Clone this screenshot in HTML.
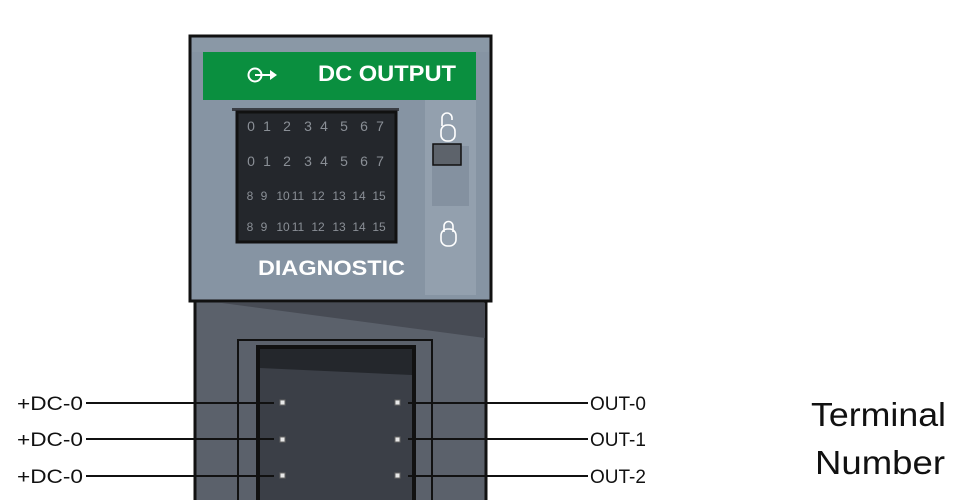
<!DOCTYPE html>
<html><head><meta charset="utf-8"><style>
html,body{margin:0;padding:0;background:#fff;width:960px;height:500px;overflow:hidden}
svg text{font-family:"Liberation Sans",sans-serif}
</style></head><body>
<svg width="960" height="500" viewBox="0 0 960 500" xmlns="http://www.w3.org/2000/svg">
<rect x="195" y="300" width="291" height="210" fill="#5b616b" stroke="#111" stroke-width="3"/>
<polygon points="222,303 485,303 485,338" fill="#474b54"/>
<rect x="238" y="340" width="194" height="170" fill="#5b616b" stroke="#111" stroke-width="2"/>
<rect x="258" y="347" width="156" height="160" fill="#3b3f47" stroke="#111" stroke-width="4"/>
<polygon points="260,349 412,349 412,375 260,368" fill="#24272c"/>
<rect x="190" y="36" width="301" height="265" fill="#8694a3" stroke="#111" stroke-width="3"/>
<rect x="192" y="38" width="297" height="14" fill="#8a98a6"/>
<rect x="425" y="100" width="51" height="195" fill="#93a0ae"/>
<rect x="432" y="146" width="37" height="60" fill="#8491a0"/>
<rect x="433" y="144" width="28" height="21" fill="#5d636b" stroke="#111" stroke-width="1.5"/>
<rect x="203" y="52" width="273" height="48" fill="#0a8f3f"/>
<text x="318" y="81" font-size="22" font-weight="bold" fill="#fff" textLength="138" lengthAdjust="spacingAndGlyphs">DC OUTPUT</text>
<circle cx="255" cy="75" r="6.5" fill="none" stroke="#fff" stroke-width="2"/>
<line x1="255" y1="75" x2="272" y2="75" stroke="#fff" stroke-width="2"/>
<polygon points="270,70 277,75 270,80" fill="#fff"/>
<rect x="232" y="108" width="167" height="3" fill="#3a3d44"/>
<rect x="237" y="112" width="159" height="130" fill="#24272c" stroke="#111" stroke-width="3"/>
<g font-size="14" fill="#8a8f96" text-anchor="middle">
<text x="251" y="131">0</text><text x="267" y="131">1</text><text x="287" y="131">2</text><text x="308" y="131">3</text><text x="324" y="131">4</text><text x="344" y="131">5</text><text x="364" y="131">6</text><text x="380" y="131">7</text>
<text x="251" y="166">0</text><text x="267" y="166">1</text><text x="287" y="166">2</text><text x="308" y="166">3</text><text x="324" y="166">4</text><text x="344" y="166">5</text><text x="364" y="166">6</text><text x="380" y="166">7</text>
</g>
<g font-size="12" fill="#8a8f96" text-anchor="middle">
<text x="250" y="200">8</text><text x="264" y="200">9</text><text x="283" y="200">10</text><text x="298" y="200">11</text><text x="318" y="200">12</text><text x="339" y="200">13</text><text x="359" y="200">14</text><text x="379" y="200">15</text>
<text x="250" y="231">8</text><text x="264" y="231">9</text><text x="283" y="231">10</text><text x="298" y="231">11</text><text x="318" y="231">12</text><text x="339" y="231">13</text><text x="359" y="231">14</text><text x="379" y="231">15</text>
</g>
<text x="258" y="275" font-size="21" font-weight="bold" fill="#fff" textLength="147" lengthAdjust="spacingAndGlyphs">DIAGNOSTIC</text>
<path d="M442,126 v-8 a5,5 0 0 1 10,0 v2" fill="none" stroke="#fff" stroke-width="1.6"/>
<rect x="441" y="125" width="14" height="16" rx="6" fill="none" stroke="#fff" stroke-width="1.6"/>
<path d="M444,232 v-6 a4.5,4.5 0 0 1 9,0 v6" fill="none" stroke="#fff" stroke-width="1.6"/>
<rect x="441" y="229" width="15" height="17" rx="6.5" fill="none" stroke="#fff" stroke-width="1.6"/>
<g stroke="#111" stroke-width="2">
<line x1="86" y1="403" x2="274" y2="403"/><line x1="86" y1="439" x2="274" y2="439"/><line x1="86" y1="476" x2="274" y2="476"/>
<line x1="408" y1="403" x2="588" y2="403"/><line x1="408" y1="439" x2="588" y2="439"/><line x1="408" y1="476" x2="588" y2="476"/>
</g>
<g fill="#e8e8e8" stroke="#666" stroke-width="1">
<rect x="280" y="400" width="5" height="5"/><rect x="280" y="437" width="5" height="5"/><rect x="280" y="473" width="5" height="5"/>
<rect x="395" y="400" width="5" height="5"/><rect x="395" y="437" width="5" height="5"/><rect x="395" y="473" width="5" height="5"/>
</g>
<g font-size="19" fill="#111">
<text x="17" y="410" textLength="66" lengthAdjust="spacingAndGlyphs">+DC-0</text><text x="17" y="446" textLength="66" lengthAdjust="spacingAndGlyphs">+DC-0</text><text x="17" y="483" textLength="66" lengthAdjust="spacingAndGlyphs">+DC-0</text>
<text x="590" y="410">OUT-0</text><text x="590" y="446">OUT-1</text><text x="590" y="483">OUT-2</text>
</g>
<g font-size="33" fill="#111">
<text x="811" y="426" textLength="135" lengthAdjust="spacingAndGlyphs">Terminal</text><text x="815" y="474" textLength="130" lengthAdjust="spacingAndGlyphs">Number</text>
</g>
</svg>
</body></html>
